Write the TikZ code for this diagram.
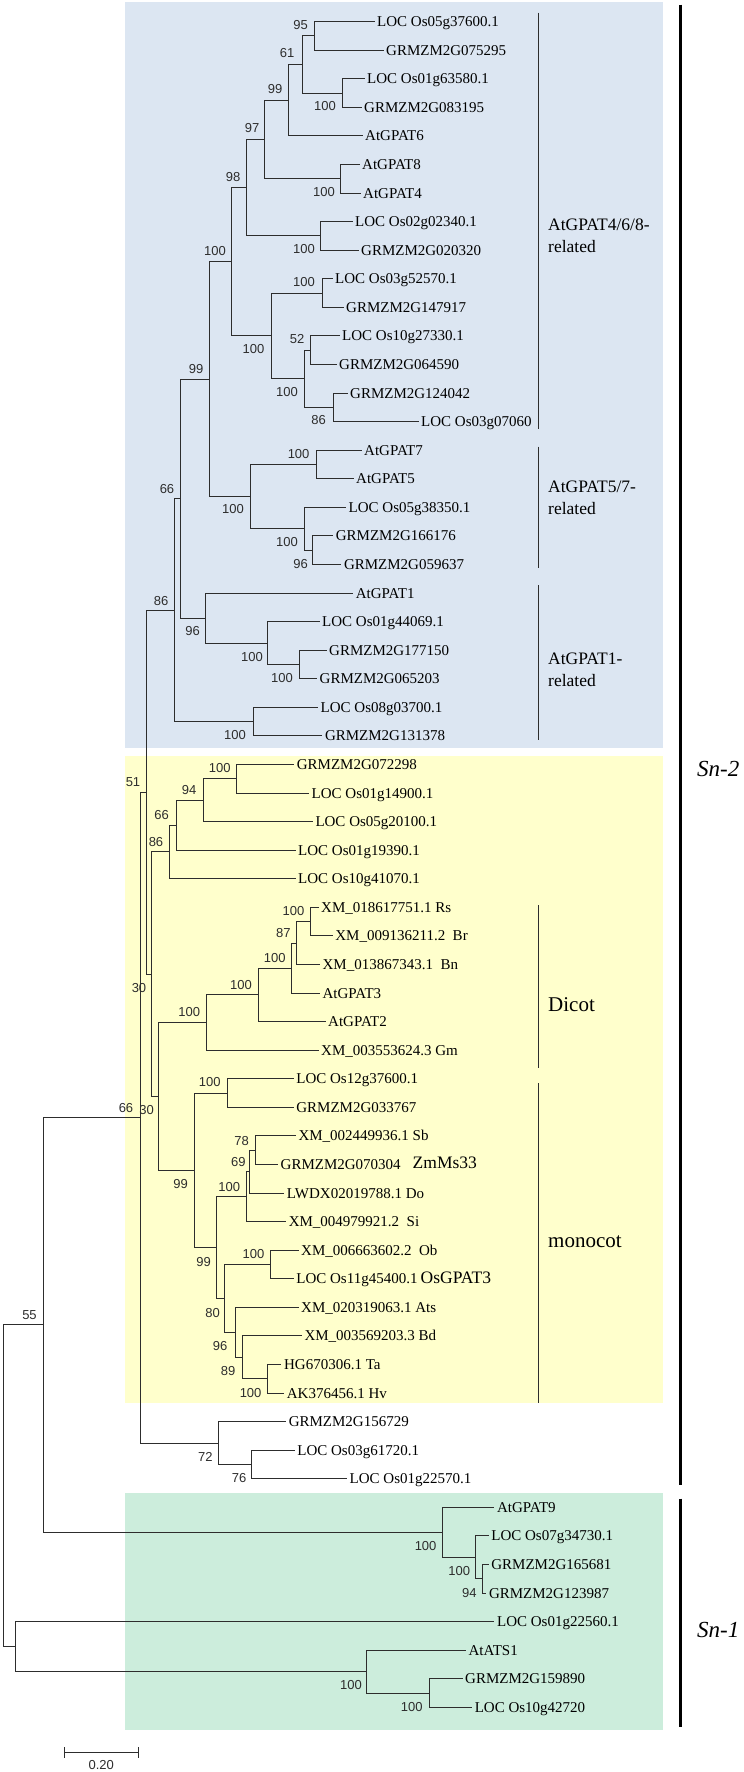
\documentclass[tikz,border=0pt]{standalone}
\usepackage{fontspec}
\setmainfont{Liberation Serif}
\newfontfamily\bsfam{Liberation Sans}
\newcommand\leafsz{\fontsize{15pt}{18pt}\selectfont}
\newcommand\bootsz{\bsfam\fontsize{13pt}{15pt}\selectfont}
\newcommand\groupsz{\fontsize{17.5pt}{22pt}\selectfont}
\newcommand\cladesz{\fontsize{21pt}{25pt}\selectfont}
\newcommand\snsz{\fontsize{23pt}{28pt}\selectfont\itshape}
\definecolor{bluebg}{RGB}{220,230,242}
\definecolor{yellowbg}{RGB}{255,255,204}
\definecolor{greenbg}{RGB}{204,237,220}
\definecolor{treecol}{RGB}{45,45,45}
\begin{document}
\begin{tikzpicture}[x=1pt,y=-1pt,
  leafnode/.style={anchor=west, inner xsep=3pt, inner ysep=0pt, text height=10pt, text depth=0pt, font=\leafsz},
  bsnode/.style={inner sep=0pt, font=\bootsz, text height=9.3pt, text depth=0pt, text=treecol},
  branch/.style={line width=1pt, draw=treecol, line cap=rect},
  bracketline/.style={line width=1pt, draw=treecol},
  grplabel/.style={anchor=west, align=left, inner sep=0pt, font=\groupsz},
  cladelabel/.style={anchor=west, inner sep=0pt, font=\cladesz},
  notelabel/.style={anchor=west, inner sep=0pt, font=\groupsz},
  snlabel/.style={anchor=west, inner sep=0pt, font=\snsz},
  bigbar/.style={line width=3pt, draw=black}]
\useasboundingbox (0,0) rectangle (744,1772);
% backgrounds
\fill[bluebg] (124.6,2.3) rectangle (663,748.3);
\fill[yellowbg] (124.6,756) rectangle (663,1403.3);
\fill[greenbg] (124.6,1493) rectangle (663,1730.3);
% big bars
\draw[bigbar] (680.5,4.7) -- (680.5,1485.3);
\draw[bigbar] (680.5,1498.7) -- (680.5,1727);
\node[snlabel] (sn2) at (697,769) {Sn-2};
\node[snlabel] (sn1) at (697,1630) {Sn-1};
% clade brackets
\draw[bracketline] (538,12.7) -- (538,429);
\draw[bracketline] (538,446.7) -- (538,568);
\draw[bracketline] (538,585) -- (538,740);
\draw[bracketline] (538,905) -- (538,1068.3);
\draw[bracketline] (538,1083.3) -- (538,1403.3);
\node[grplabel] (g1) at (548,236) {AtGPAT4/6/8-\\related};
\node[grplabel] (g2) at (548,497.5) {AtGPAT5/7-\\related};
\node[grplabel] (g3) at (548,669.5) {AtGPAT1-\\related};
\node[cladelabel] (g4) at (548,1005) {Dicot};
\node[cladelabel] (g5) at (548,1242) {monocot};
% leaves
\node[leafnode] (l1) at (374,21.6) {LOC Os05g37600.1};
\node[leafnode] (l2) at (383,50.2) {GRMZM2G075295};
\node[leafnode] (l3) at (364,78.7) {LOC Os01g63580.1};
\node[leafnode] (l4) at (361,107.3) {GRMZM2G083195};
\node[leafnode] (l5) at (362,135.9) {AtGPAT6};
\node[leafnode] (l6) at (359,164.5) {AtGPAT8};
\node[leafnode] (l7) at (360,193.0) {AtGPAT4};
\node[leafnode] (l8) at (352,221.6) {LOC Os02g02340.1};
\node[leafnode] (l9) at (358,250.2) {GRMZM2G020320};
\node[leafnode] (l10) at (332,278.7) {LOC Os03g52570.1};
\node[leafnode] (l11) at (343,307.3) {GRMZM2G147917};
\node[leafnode] (l12) at (339,335.9) {LOC Os10g27330.1};
\node[leafnode] (l13) at (336,364.4) {GRMZM2G064590};
\node[leafnode] (l14) at (347,393.0) {GRMZM2G124042};
\node[leafnode] (l15) at (418,421.6) {LOC Os03g07060};
\node[leafnode] (l16) at (361,450.2) {AtGPAT7};
\node[leafnode] (l17) at (353,478.7) {AtGPAT5};
\node[leafnode] (l18) at (345.5,507.3) {LOC Os05g38350.1};
\node[leafnode] (l19) at (332.7,535.9) {GRMZM2G166176};
\node[leafnode] (l20) at (340.8,564.4) {GRMZM2G059637};
\node[leafnode] (l21) at (352.7,593.0) {AtGPAT1};
\node[leafnode] (l22) at (319,621.6) {LOC Os01g44069.1};
\node[leafnode] (l23) at (326,650.1) {GRMZM2G177150};
\node[leafnode] (l24) at (316.5,678.7) {GRMZM2G065203};
\node[leafnode] (l25) at (317.5,707.3) {LOC Os08g03700.1};
\node[leafnode] (l26) at (321.8,735.9) {GRMZM2G131378};
\node[leafnode] (l27) at (293.7,764.4) {GRMZM2G072298};
\node[leafnode] (l28) at (308.5,793.0) {LOC Os01g14900.1};
\node[leafnode] (l29) at (312.3,821.6) {LOC Os05g20100.1};
\node[leafnode] (l30) at (295,850.1) {LOC Os01g19390.1};
\node[leafnode] (l31) at (295,878.7) {LOC Os10g41070.1};
\node[leafnode] (l32) at (318,907.3) {XM\_018617751.1 Rs};
\node[leafnode] (l33) at (332.2,935.8) {XM\_009136211.2\ \ Br};
\node[leafnode] (l34) at (319.4,964.4) {XM\_013867343.1\ \ Bn};
\node[leafnode] (l35) at (319.4,993.0) {AtGPAT3};
\node[leafnode] (l36) at (325,1021.5) {AtGPAT2};
\node[leafnode] (l37) at (318,1050.1) {XM\_003553624.3 Gm};
\node[leafnode] (l38) at (293.2,1078.7) {LOC Os12g37600.1};
\node[leafnode] (l39) at (293.2,1107.2) {GRMZM2G033767};
\node[leafnode] (l40) at (295.3,1135.8) {XM\_002449936.1 Sb};
\node[leafnode] (l41) at (277.5,1164.4) {GRMZM2G070304};
\node[leafnode] (l42) at (283.7,1193.0) {LWDX02019788.1 Do};
\node[leafnode] (l43) at (285.6,1221.5) {XM\_004979921.2\ \ Si};
\node[leafnode] (l44) at (298,1250.1) {XM\_006663602.2\ \ Ob};
\node[leafnode] (l45) at (293.2,1278.7) {LOC Os11g45400.1};
\node[leafnode] (l46) at (298,1307.2) {XM\_020319063.1 Ats};
\node[leafnode] (l47) at (301.3,1335.8) {XM\_003569203.3 Bd};
\node[leafnode] (l48) at (280.9,1364.4) {HG670306.1 Ta};
\node[leafnode] (l49) at (283.7,1393.0) {AK376456.1 Hv};
\node[leafnode] (l50) at (285.6,1421.5) {GRMZM2G156729};
\node[leafnode] (l51) at (294.2,1450.1) {LOC Os03g61720.1};
\node[leafnode] (l52) at (346.5,1478.7) {LOC Os01g22570.1};
\node[leafnode] (l53) at (493.9,1507.2) {AtGPAT9};
\node[leafnode] (l54) at (488.2,1535.8) {LOC Os07g34730.1};
\node[leafnode] (l55) at (488.2,1564.4) {GRMZM2G165681};
\node[leafnode] (l56) at (485.8,1593.0) {GRMZM2G123987};
\node[leafnode] (l57) at (493.9,1621.5) {LOC Os01g22560.1};
\node[leafnode] (l58) at (465.4,1650.1) {AtATS1};
\node[leafnode] (l59) at (462,1678.7) {GRMZM2G159890};
\node[leafnode] (l60) at (471.6,1707.2) {LOC Os10g42720};
\node[notelabel] (zm) at (412.5,1163) {ZmMs33};
\node[notelabel] (osg) at (420.5,1278) {OsGPAT3};
% internal nodes
\coordinate (A) at (314.8,35.9);
\coordinate (B) at (302,64.5);
\coordinate (C) at (342,93.0);
\coordinate (D) at (288.6,100.2);
\coordinate (E) at (264,139.5);
\coordinate (F) at (340,178.8);
\coordinate (G) at (246.8,187.7);
\coordinate (H) at (320,235.9);
\coordinate (I) at (231.6,261.8);
\coordinate (J) at (271,335.9);
\coordinate (K) at (322,293.0);
\coordinate (L) at (304,378.7);
\coordinate (M) at (310,350.2);
\coordinate (N) at (333,407.3);
\coordinate (P) at (209.7,379.2);
\coordinate (Q) at (180.7,498.6);
\coordinate (R) at (250.6,496.6);
\coordinate (S) at (316,464.5);
\coordinate (T) at (304,528.7);
\coordinate (U) at (312.4,550.2);
\coordinate (V) at (174.5,610.1);
\coordinate (W) at (205.4,618.0);
\coordinate (X) at (267.7,643.0);
\coordinate (Z) at (299.6,664.4);
\coordinate (Y) at (253,721.6);
\coordinate (AA) at (146.5,792.1);
\coordinate (KK) at (140.5,1117.6);
\coordinate (FF) at (151.7,974.1);
\coordinate (EE) at (169.8,851.9);
\coordinate (DD) at (176,825.1);
\coordinate (CC) at (203.5,800.2);
\coordinate (BB) at (236.8,778.7);
\coordinate (GG) at (158.3,1096.3);
\coordinate (HH) at (206.4,1022.4);
\coordinate (YY) at (258.2,994.8);
\coordinate (XX) at (291,968.0);
\coordinate (WW) at (296.2,943.0);
\coordinate (VV) at (310,921.5);
\coordinate (ZZ) at (194,1170.2);
\coordinate (AB) at (227.8,1093.0);
\coordinate (AD) at (216.9,1247.4);
\coordinate (AE) at (246.8,1196.5);
\coordinate (AG) at (249.3,1171.5);
\coordinate (AH) at (255.3,1150.1);
\coordinate (AF) at (224.4,1298.3);
\coordinate (AI) at (270,1264.4);
\coordinate (AJ) at (235.4,1332.2);
\coordinate (AK) at (242.5,1357.2);
\coordinate (AL) at (267.7,1378.7);
\coordinate (LL) at (218.7,1443.0);
\coordinate (MM) at (251,1464.4);
\coordinate (NN) at (43.7,1324.9);
\coordinate (SS) at (442.2,1532.2);
\coordinate (TT) at (475.5,1557.2);
\coordinate (UU) at (482.6,1578.7);
\coordinate (PP) at (15.7,1646.5);
\coordinate (QQ) at (366,1671.5);
\coordinate (RR) at (429.4,1693.0);
\coordinate (root) at (3.8,1485.7);
% branches
\foreach \p/\c in {A/l1,A/l2,B/A,B/C,C/l3,C/l4,D/B,D/l5,E/D,E/F,F/l6,F/l7,G/E,G/H,H/l8,H/l9,
  I/G,I/J,J/K,J/L,K/l10,K/l11,L/M,L/N,M/l12,M/l13,N/l14,N/l15,P/I,P/R,R/S,R/T,S/l16,S/l17,
  T/l18,T/U,U/l19,U/l20,Q/P,Q/W,W/l21,W/X,X/l22,X/Z,Z/l23,Z/l24,V/Q,V/Y,Y/l25,Y/l26,
  AA/V,AA/FF,FF/EE,FF/GG,EE/DD,EE/l31,DD/CC,DD/l30,CC/BB,CC/l29,BB/l27,BB/l28,
  GG/HH,GG/ZZ,HH/YY,HH/l37,YY/XX,YY/l36,XX/WW,XX/l35,WW/VV,WW/l34,VV/l32,VV/l33,
  ZZ/AB,ZZ/AD,AB/l38,AB/l39,AD/AE,AD/AF,AE/AG,AE/l43,AG/AH,AG/l42,AH/l40,AH/l41,
  AF/AI,AF/AJ,AI/l44,AI/l45,AJ/l46,AJ/AK,AK/l47,AK/AL,AL/l48,AL/l49,
  KK/AA,KK/LL,LL/l50,LL/MM,MM/l51,MM/l52,NN/KK,NN/SS,SS/l53,SS/TT,TT/l54,TT/UU,UU/l55,UU/l56,
  root/NN,root/PP,PP/l57,PP/QQ,QQ/l58,QQ/RR,RR/l59,RR/l60}
  \draw[branch] (\p) |- (\c);
% bootstrap values
\foreach \n/\x/\y/\t in {A/300.5/25/95,B/287/53/61,C/325/106/100,D/275/89/99,E/252/128/97,
  F/324/192/100,G/233/177/98,H/304/249/100,I/215/251/100,K/304/282/100,J/253.5/349/100,
  M/297/339/52,L/287/392/100,N/318.6/420/86,P/196/369/99,S/298.6/454/100,R/233/509/100,
  T/287/541.7/100,U/300.5/564/96,Q/167/489/66,V/161/600.5/86,W/192.7/630.7/96,X/252/656.7/100,
  Z/282/678/100,Y/235/735/100,AA/133/781.7/51,BB/219.7/768/100,CC/189/790/94,DD/161.7/815/66,
  EE/156/842.3/86,VV/293.4/911/100,WW/283.4/932.7/87,XX/274.8/957.7/100,YY/241/985/100,
  HH/189.2/1012.3/100,FF/139/988.3/30,GG/146.7/1110/30,KK/126/1107.7/66,AB/209.7/1082.3/100,
  ZZ/180.7/1184/99,AH/241.7/1140.7/78,AG/238.3/1161.7/69,AE/229.3/1186.7/100,AD/203.5/1261.7/99,
  AI/253.4/1254/100,AF/212.6/1313.3/80,AJ/220.2/1345.7/96,AK/228.2/1370.7/89,AL/250.6/1392.7/100,
  LL/205.4/1456.7/72,MM/239/1478.3/76,NN/29.5/1315/55,SS/425.6/1546/100,TT/459.3/1571/100,
  UU/469.3/1592.7/94,QQ/351/1685.3/100,RR/411.8/1707/100}
  \node[bsnode] (b\n) at (\x,\y) {\t};
% scale bar
\coordinate (sbl) at (64.2,1752);
\coordinate (sbr) at (138.8,1752);
\draw[branch] (sbl) -- (sbr);
\draw[branch] ([yshift=4.5pt]sbl) -- ([yshift=-5pt]sbl);
\draw[branch] ([yshift=4.5pt]sbr) -- ([yshift=-5pt]sbr);
\node[bsnode] (sbt) at (101.3,1765) {0.20};
\end{tikzpicture}
\end{document}
